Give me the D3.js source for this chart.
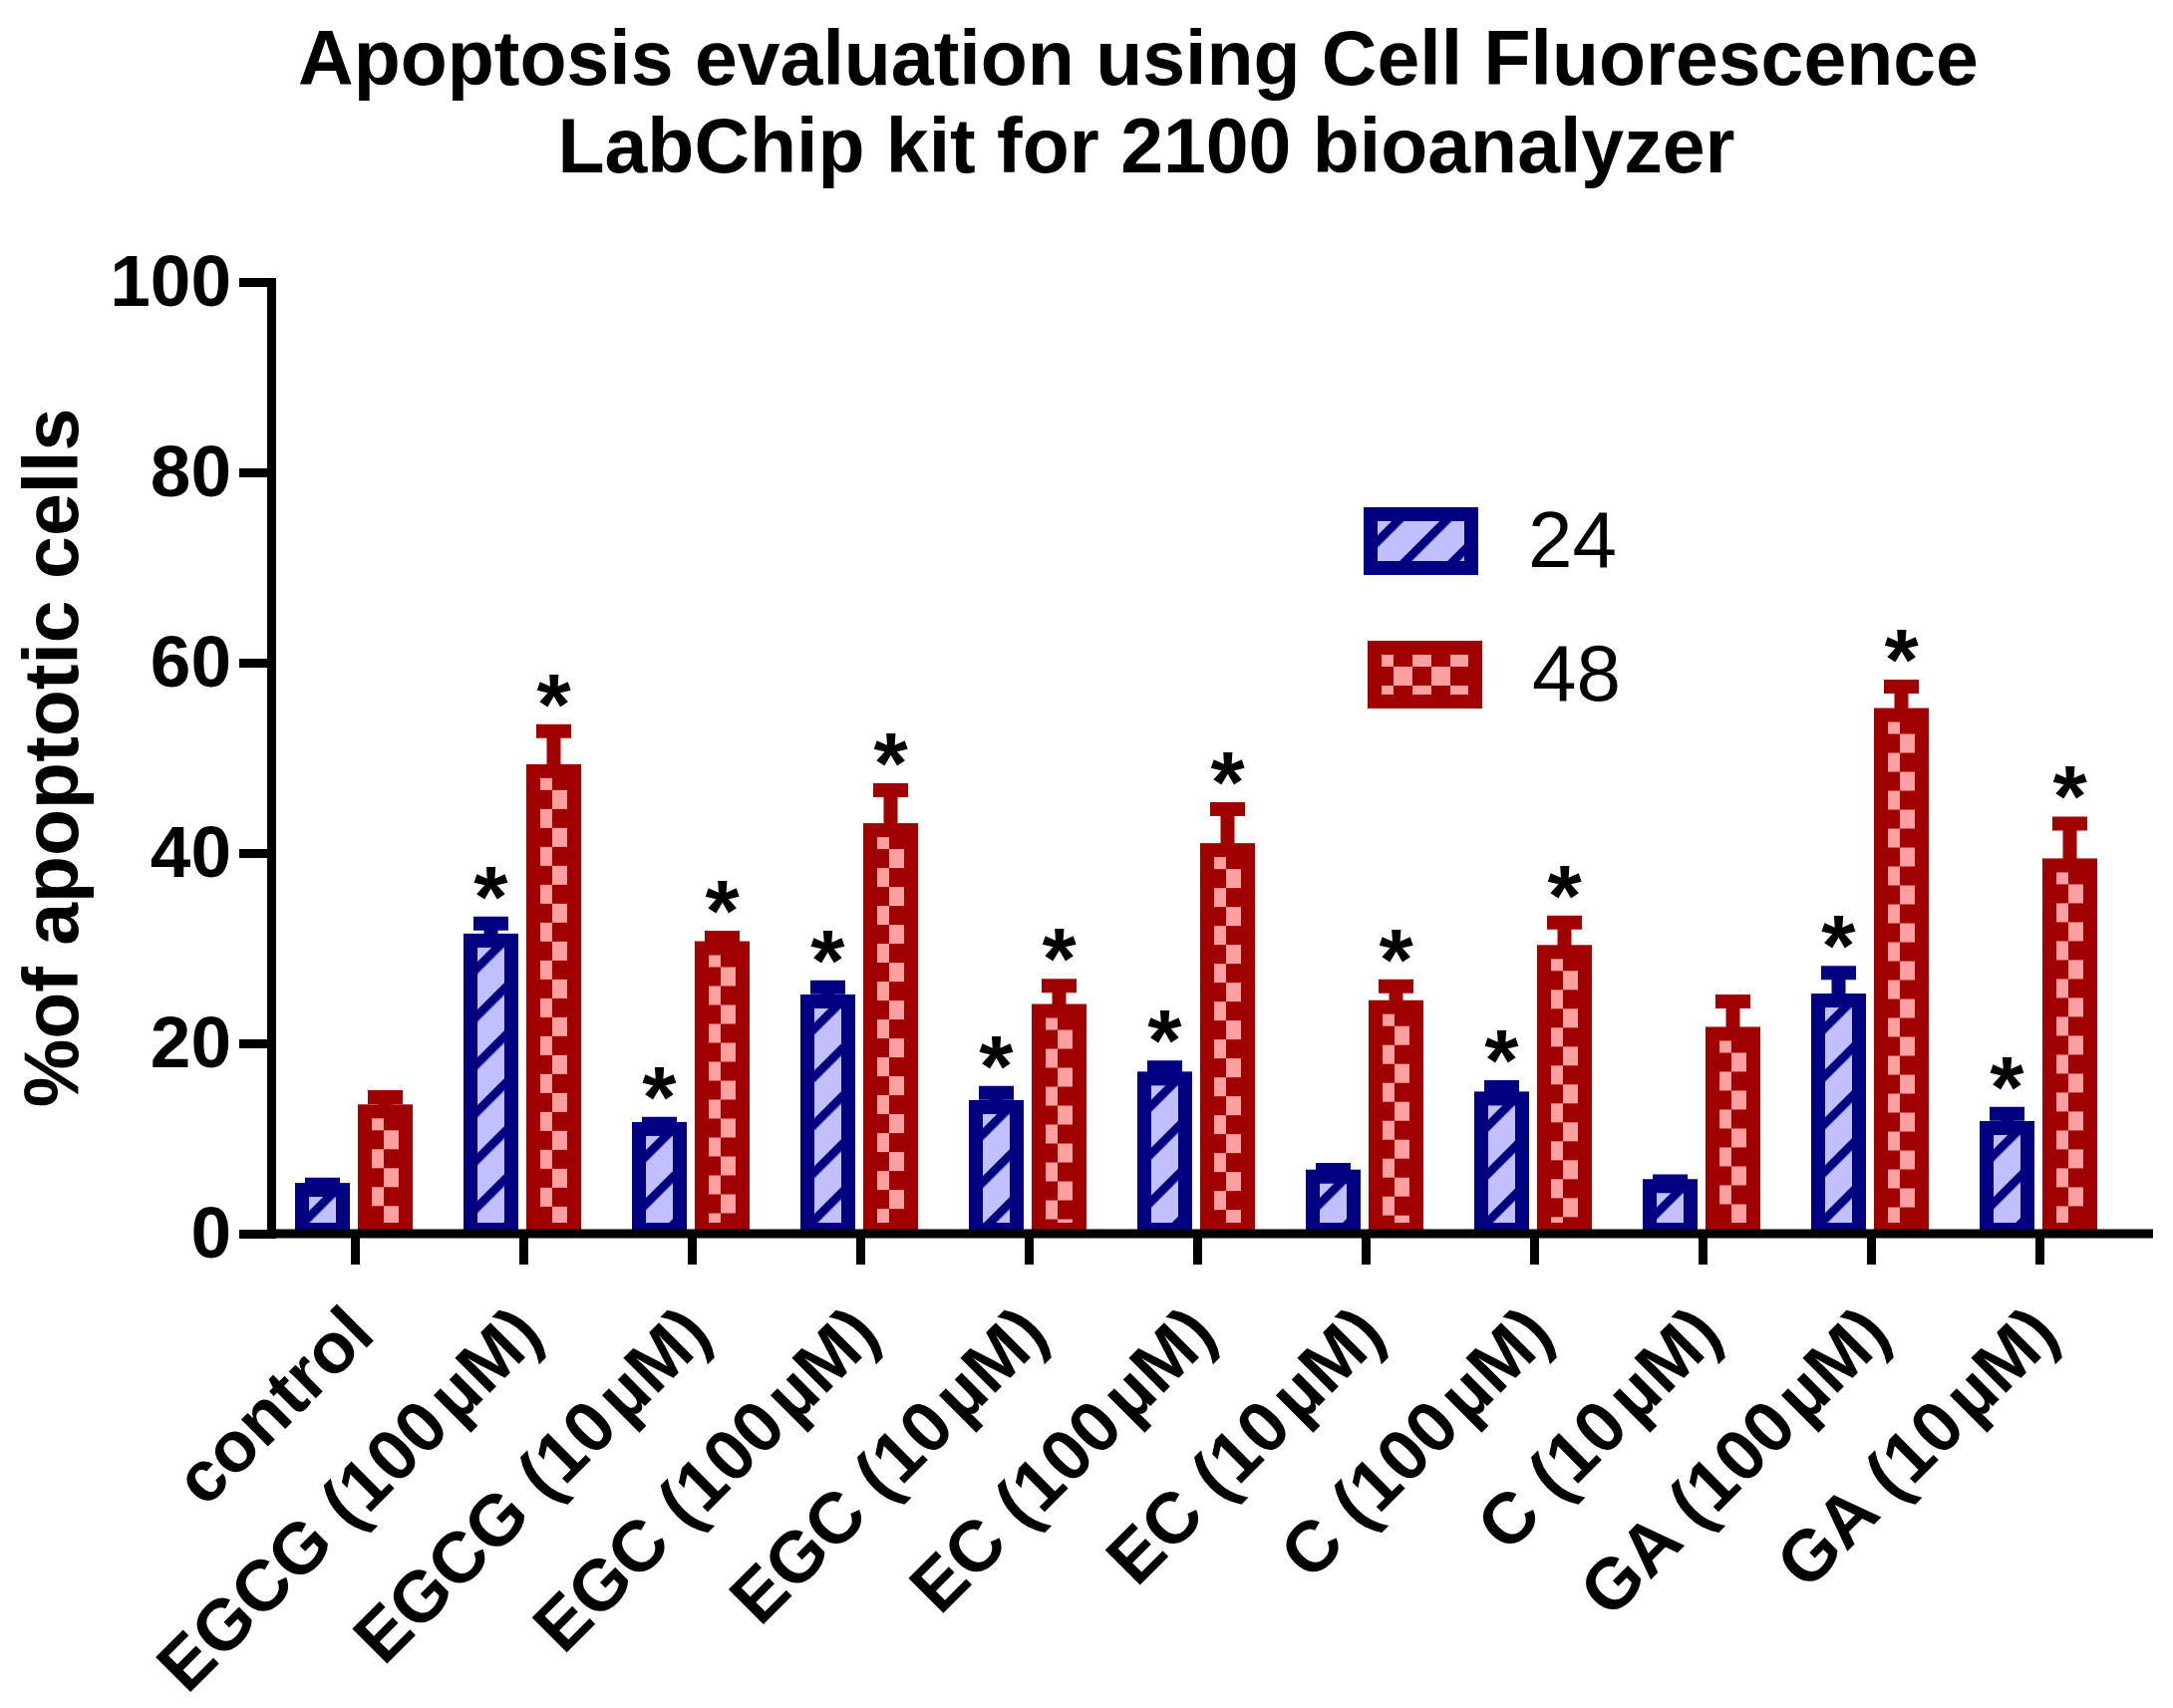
<!DOCTYPE html>
<html>
<head>
<meta charset="utf-8">
<script src="https://cdn.jsdelivr.net/npm/d3@7"></script>
<style>
  body { margin: 0; background: #fff; }
  svg { display: block; font-family: "Liberation Sans", Arial, sans-serif; }
</style>
</head>
<body>
<script>
// values (% of apoptotic cells, mean and SD)
var categories = ["control", "EGCG (100µM)", "EGCG (10µM)", "EGC (100µM)", "EGC (10µM)",
    "EC (100µM)", "EC (10µM)", "C (100µM)", "C (10µM)", "GA (100µM)", "GA (10µM)"];
var seriesNames = ["24", "48"];
var mean24 = [4.6, 30.8, 11.0, 24.4, 13.3, 16.3, 6.0, 14.2, 5.0, 24.5, 11.1];
var sd24 = [0.55, 1.8, 0.55, 1.5, 1.5, 1.15, 0.7, 1.2, 0.5, 2.9, 1.5];
var mean48 = [12.85, 48.6, 30.0, 42.4, 23.4, 40.3, 23.8, 29.6, 21.0, 54.5, 38.7];
var sd48 = [1.5, 4.2, 1.1, 4.2, 2.65, 4.3, 2.2, 3.1, 3.4, 3.0, 4.4];
var star24 = [0, 1, 1, 1, 1, 1, 0, 1, 0, 1, 1];
var star48 = [0, 1, 1, 1, 1, 1, 1, 1, 0, 1, 1];
var yTicks = [0, 20, 40, 60, 80, 100];

function main() {

    var W = 2180, H = 1714;
    var left = 272, step = 169, top = 283, bottom = 1238;
    var lw = 14;   // line weight of bars and error bars
    var axisW = 9;

    var svg = d3.select("body")
        .append("svg")
        .attr("width", W)
        .attr("height", H);

    svg.append("rect").attr("width", W).attr("height", H).attr("fill", "#fff");

    var look = {
        "24": { stroke: "#000080", fill: "url(#hatch)" },
        "48": { stroke: "#a00000", fill: "url(#checker)" }
    };

    var defs = svg.append("defs");
    var hatch = defs.append("pattern")
        .attr("id", "hatch")
        .attr("patternUnits", "userSpaceOnUse")
        .attr("width", 48 / Math.SQRT2)
        .attr("height", 10)
        .attr("patternTransform", "rotate(45)");
    hatch.append("rect").attr("width", 48 / Math.SQRT2).attr("height", 10).attr("fill", "#c0c0ff");
    hatch.append("rect").attr("x", 20).attr("width", 8.5).attr("height", 10).attr("fill", "#000080");

    var checker = defs.append("pattern")
        .attr("id", "checker")
        .attr("patternUnits", "userSpaceOnUse")
        .attr("width", 38)
        .attr("height", 38);
    checker.append("rect").attr("width", 38).attr("height", 38).attr("fill", "#a00000");
    checker.append("rect").attr("width", 19).attr("height", 19).attr("fill", "#ffa0a0");
    checker.append("rect").attr("x", 19).attr("y", 19).attr("width", 19).attr("height", 19).attr("fill", "#ffa0a0");

    var x = d3.scaleBand()
        .domain(categories)
        .range([left, left + step * categories.length]);

    var xs = d3.scaleBand()
        .domain(seriesNames)
        .range([x.bandwidth() / 2 - 60.5, x.bandwidth() / 2 + 57.5])
        .paddingInner(0.127);

    var y = d3.scaleLinear()
        .domain([0, 100])
        .range([bottom, top]);

    var rows = [];
    categories.forEach(function (c, i) {
        rows.push({ cat: c, key: "24", mean: mean24[i], sd: sd24[i], star: star24[i] });
        rows.push({ cat: c, key: "48", mean: mean48[i], sd: sd48[i], star: star48[i] });
    });

    function cx(d) { return x(d.cat) + xs(d.key) + xs.bandwidth() / 2; }

    // error bars, drawn under the bars
    var err = svg.append("g");
    err.selectAll("line.stem")
        .data(rows)
        .enter().append("line")
        .attr("x1", cx).attr("x2", cx)
        .attr("y1", function (d) { return y(d.mean); })
        .attr("y2", function (d) { return y(d.mean + d.sd); })
        .attr("stroke", function (d) { return look[d.key].stroke; })
        .attr("stroke-width", lw);
    err.selectAll("line.cap")
        .data(rows)
        .enter().append("line")
        .attr("x1", function (d) { return cx(d) - 17.5; })
        .attr("x2", function (d) { return cx(d) + 17.5; })
        .attr("y1", function (d) { return y(d.mean + d.sd); })
        .attr("y2", function (d) { return y(d.mean + d.sd); })
        .attr("stroke", function (d) { return look[d.key].stroke; })
        .attr("stroke-width", lw);

    // bars: each in its own group so the fill pattern starts at the bar corner
    svg.append("g")
        .selectAll("g")
        .data(rows)
        .enter().append("g")
        .attr("transform", function (d) {
            return "translate(" + (x(d.cat) + xs(d.key) + lw / 2) + "," + y(d.mean) + ")";
        })
        .append("rect")
        .attr("width", xs.bandwidth() - lw)
        .attr("height", function (d) { return y(0) - y(d.mean) - 4; })
        .attr("fill", function (d) { return look[d.key].fill; })
        .attr("stroke", function (d) { return look[d.key].stroke; })
        .attr("stroke-width", lw);

    // significance stars
    svg.append("g")
        .selectAll("text")
        .data(rows.filter(function (d) { return d.star; }))
        .enter().append("text")
        .attr("x", cx)
        .attr("y", function (d) { return y(d.mean + d.sd) + 3; })
        .attr("text-anchor", "middle")
        .attr("font-size", 88)
        .attr("font-weight", "bold")
        .text("*");

    // axes
    var yAxis = svg.append("g")
        .attr("transform", "translate(" + left + ",0)")
        .call(d3.axisLeft(y).tickValues(yTicks).tickSize(32).tickSizeOuter(0).tickPadding(8));
    yAxis.select(".domain").attr("stroke-width", axisW).attr("stroke-linecap", "square");
    yAxis.selectAll(".tick line").attr("stroke-width", axisW);
    yAxis.selectAll(".tick text")
        .attr("font-size", 73)
        .attr("font-weight", "bold")
        .attr("font-family", "Liberation Sans, Arial, sans-serif")
        .attr("fill", "#000");

    var xAxis = svg.append("g")
        .attr("transform", "translate(0," + bottom + ")")
        .call(d3.axisBottom(x).tickSize(31).tickSizeOuter(0).tickFormat(""));
    xAxis.select(".domain")
        .attr("d", "M" + left + ",0H" + (x.range()[1] + 29))
        .attr("stroke-width", axisW);
    xAxis.selectAll(".tick line").attr("stroke-width", axisW);

    // rotated category labels, with the small gap Prism leaves before the µ
    var lab = xAxis.selectAll(".tick").append("text")
        .attr("font-size", 72)
        .attr("font-weight", "bold")
        .attr("font-family", "Liberation Sans, Arial, sans-serif")
        .attr("fill", "#000")
        .attr("text-anchor", "end")
        .attr("x", 4)
        .attr("y", 86)
        .attr("dy", "0.35em")
        .attr("transform", "rotate(-45,4,86)");
    lab.each(function (d) {
        var t = d3.select(this);
        var k = d.indexOf("µ");
        if (k < 0) { t.text(d); return; }
        t.append("tspan").text(d.slice(0, k));
        t.append("tspan").attr("dx", 7).text(d.slice(k));
    });

    // y title
    svg.append("text")
        .attr("transform", "translate(78," + (top + bottom) / 2 + ") rotate(-90)")
        .attr("text-anchor", "middle")
        .attr("font-size", 77)
        .attr("font-weight", "bold")
        .text("%of apoptotic cells");

    // title
    var title = svg.append("text")
        .attr("text-anchor", "middle")
        .attr("font-size", 77)
        .attr("font-weight", "bold");
    title.append("tspan").attr("x", 1142).attr("y", 85).text("Apoptosis evaluation using Cell Fluorescence");
    title.append("tspan").attr("x", 1150).attr("y", 173).text("LabChip kit for 2100 bioanalyzer");

    // legend
    var legend = svg.append("g")
        .selectAll("g")
        .data(seriesNames)
        .enter().append("g")
        .attr("transform", function (d, i) { return "translate(" + (1375 + i * 4) + "," + (516 + i * 134) + ")"; });
    legend.append("rect")
        .attr("width", 101)
        .attr("height", 54)
        .attr("fill", function (d) { return look[d].fill; })
        .attr("stroke", function (d) { return look[d].stroke; })
        .attr("stroke-width", lw);
    legend.append("text")
        .attr("x", 158)
        .attr("y", 53)
        .attr("font-size", 80)
        .text(function (d) { return d; });
}

main();
</script>
</body>
</html>
